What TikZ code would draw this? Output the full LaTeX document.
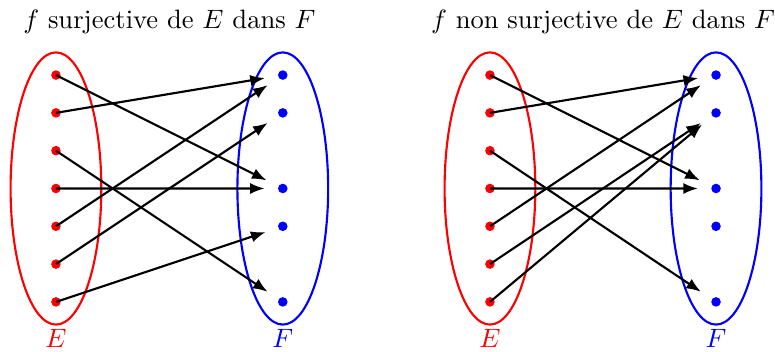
\documentclass[tikz,border=0pt]{standalone}
\usepackage{amsmath,amssymb}
\usepackage{xcolor}
\usepackage{tikz}
\usetikzlibrary{arrows.meta,positioning}

\begin{document}
\begin{tikzpicture}[node distance=0.5cm,
    edot/.style={circle, fill=red, inner sep=0pt, minimum size=3.6pt},
    fdot/.style={circle, fill=blue, inner sep=0pt, minimum size=3.6pt},
    setE/.style={draw=red, thick},
    setF/.style={draw=blue, thick},
    title/.style={anchor=base},
    line/.style={draw, -{Latex[length=5.5pt,width=4.2pt]}, thick, shorten >=0.17cm}]

    \useasboundingbox (0,0) rectangle (10.25,4.643);

    % Left: surjective
    \node [edot] (a1) at (0.74,3.65) {};
    \node [edot, below of=a1] (a2) {};
    \node [edot, below of=a2] (a3) {};
    \node [edot, below of=a3] (a4) {};
    \node [edot, below of=a4] (a5) {};
    \node [edot, below of=a5] (a6) {};
    \node [edot, below of=a6] (a7) {};

    \node [fdot] (b1) at (3.74,3.65) {};
    \node [fdot, below of=b1] (b2) {};
    \node [fdot, below of=b2, node distance=1cm] (b3) {};
    \node [fdot, below of=b3] (b4) {};
    \node [fdot, below of=b4, node distance=1cm] (b5) {};

    \draw [setE] (a4) ellipse [x radius=0.6, y radius=1.8];
    \draw [setF] (b3) ellipse [x radius=0.6, y radius=1.8];

    \node [title] (tl) at (2.24,4.26) {$f$ surjective de $E$ dans $F$};
    \node [title, red] (la) at (0.74,0.05) {$E$};
    \node [title, blue] (lb) at (3.74,0.05) {$F$};

    \path [line] (a1.center) -- (b3);
    \path [line] (a2.center) -- (b1);
    \path [line] (a3.center) -- (b5);
    \path [line] (a4.center) -- (b3);
    \path [line] (a5.center) -- (b1);
    \path [line] (a6.center) -- (b2);
    \path [line] (a7.center) -- (b4);

    % Right: non surjective
    \node [edot] (c1) at (6.48,3.65) {};
    \node [edot, below of=c1] (c2) {};
    \node [edot, below of=c2] (c3) {};
    \node [edot, below of=c3] (c4) {};
    \node [edot, below of=c4] (c5) {};
    \node [edot, below of=c5] (c6) {};
    \node [edot, below of=c6] (c7) {};

    \node [fdot] (d1) at (9.47,3.65) {};
    \node [fdot, below of=d1] (d2) {};
    \node [fdot, below of=d2, node distance=1cm] (d3) {};
    \node [fdot, below of=d3] (d4) {};
    \node [fdot, below of=d4, node distance=1cm] (d5) {};

    \draw [setE] (c4) ellipse [x radius=0.6, y radius=1.8];
    \draw [setF] (d3) ellipse [x radius=0.6, y radius=1.8];

    \node [title] (tr) at (7.975,4.26) {$f$ non surjective de $E$ dans $F$};
    \node [title, red] (lc) at (6.48,0.05) {$E$};
    \node [title, blue] (ld) at (9.47,0.05) {$F$};

    \path [line] (c1.center) -- (d3);
    \path [line] (c2.center) -- (d1);
    \path [line] (c3.center) -- (d5);
    \path [line] (c4.center) -- (d3);
    \path [line] (c5.center) -- (d1);
    \path [line] (c6.center) -- (d2);
    \path [line] (c7.center) -- (d2);

\end{tikzpicture}
\end{document}
